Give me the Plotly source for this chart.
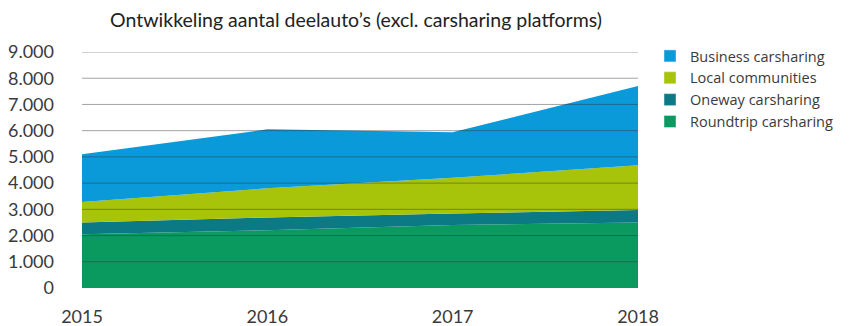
import plotly.graph_objects as go

# Data
years = [2015, 2016, 2017, 2018]
roundtrip = [2050, 2200, 2400, 2500]
oneway = [450, 490, 440, 470]
local = [780, 1110, 1360, 1710]
business = [1820, 2250, 1740, 3020]

series_names = ["Roundtrip carsharing", "Oneway carsharing", "Local communities", "Business carsharing"]
series_values = [roundtrip, oneway, local, business]
series_colors = ["#0a9a60", "#0b7a84", "#a8c40a", "#0a9ad9"]

y_ticks = [0, 1000, 2000, 3000, 4000, 5000, 6000, 7000, 8000, 9000]

fig = go.Figure()

# Stacked areas, bottom to top
for name, vals, color in zip(series_names, series_values, series_colors):
    fig.add_trace(go.Scatter(
        x=years,
        y=vals,
        name=name,
        mode="lines",
        stackgroup="one",
        line=dict(width=0, color=color),
        fillcolor=color,
        showlegend=False,
    ))

# Legend entries with square swatches (kept on a hidden axis pair)
for name, color in zip(series_names, series_colors):
    fig.add_trace(go.Bar(x=[None], y=[None], name=name, marker_color=color,
                         showlegend=True, xaxis="x2", yaxis="y2"))

# Gridlines drawn over the areas, like in the original
for t in y_ticks[1:]:
    fig.add_shape(
        type="line", xref="paper", yref="y",
        x0=0, x1=1, y0=t, y1=t,
        line=dict(color="rgba(50,50,50,0.45)", width=1),
        layer="above",
    )

# page body has an 8px margin, so the figure is a bit smaller than the window
W, H = 849, 318
fig.update_layout(
    width=W,
    height=H,
    margin=dict(l=74, r=219, t=44, b=38),
    paper_bgcolor="white",
    plot_bgcolor="white",
    separators=",.",
    font=dict(family="Lato, Open Sans, sans-serif", size=18, color="#3a3a3a"),
    title=dict(
        text="Ontwikkeling aantal deelauto’s (excl. carsharing platforms)",
        x=(356 - 8) / W, xref="container", xanchor="center",
        y=1 - 12.5 / H, yanchor="middle",
        font=dict(size=19.5, color="#222"),
    ),
    xaxis=dict(
        range=[2015, 2018],
        autorange=False,
        tickvals=years,
        ticktext=[str(y) for y in years],
        showgrid=False,
        zeroline=False,
        showline=False,
        ticks="",
        ticklabelstandoff=16,
        automargin=False,
    ),
    yaxis=dict(
        range=[0, 9000],
        autorange=False,
        tickvals=y_ticks,
        tickformat=",d",
        showgrid=False,
        zeroline=False,
        showline=False,
        ticks="",
        ticklabelstandoff=27,
        automargin=False,
    ),
    xaxis2=dict(overlaying="x", visible=False),
    yaxis2=dict(overlaying="y", visible=False),
    legend=dict(
        xref="container", yref="container",
        x=(650 - 8) / W, xanchor="left",
        y=1 - (40 - 8) / H, yanchor="top",
        traceorder="reversed",
        font=dict(family="Open Sans, Lato, sans-serif", size=14.5, color="#3a3a3a"),
        tracegroupgap=0,
        itemwidth=30,
    ),
    showlegend=True,
)

fig.write_html("out.html")
